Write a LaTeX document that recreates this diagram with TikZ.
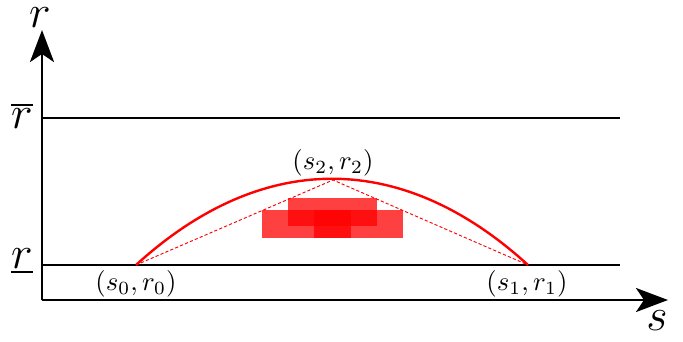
\documentclass[tikz,border=0pt]{standalone}
\usetikzlibrary{arrows.meta}
\begin{document}
\begin{tikzpicture}[x=0.375pt,y=-0.375pt,
  axis/.style={line width=1pt,-{Stealth[length=12pt,width=9pt,inset=3pt]}},
  bound/.style={line width=1pt},
  curve/.style={red,line width=0.9pt},
  chord/.style={red,line width=0.35pt,dash pattern=on 1.2pt off 0.8pt},
  blob/.style={fill=red,fill opacity=0.75,draw=none},
  lbl/.style={inner sep=0.5pt}]
\useasboundingbox (0,0) rectangle (683,341);
\coordinate (O) at (42,300);
\coordinate (ytip) at (42,30);
\coordinate (xtip) at (668,300);
\coordinate (ub0) at (42,118);
\coordinate (ub1) at (620,118);
\coordinate (lb0) at (42,265);
\coordinate (lb1) at (620,265);
\coordinate (P0) at (136,265);
\coordinate (P1) at (528,265);
\coordinate (P2) at (333,180);
% blobs
\fill[blob] (262,210) rectangle (403,238);
\fill[blob] (288,198) rectangle (377,226);
\fill[blob] (314,210) rectangle (351,238);
% axes
\draw[axis] (O) -- (ytip);
\draw[axis] (O) -- (xtip);
\draw[bound] (ub0) -- (ub1);
\draw[bound] (lb0) -- (lb1);
% curve
\draw[curve] (P0) .. controls (262,150) and (402,150) .. (P1);
\draw[chord] (P0) -- (P2) -- (P1);
% labels
\node[lbl] (rl) at (40,18) {\LARGE $r$};
\node[lbl] (sl) at (657,321) {\LARGE $s$};
\node[lbl] (rbar) at (22,116) {\LARGE $\overline{r}$};
\node[lbl] (rund) at (22,261) {\LARGE $\underline{r}$};
\node[lbl] (l0) at (136,284) {$(s_0,r_0)$};
\node[lbl] (l1) at (527,284) {$(s_1,r_1)$};
\node[lbl] (l2) at (333,163) {$(s_2,r_2)$};
\end{tikzpicture}
\end{document}
